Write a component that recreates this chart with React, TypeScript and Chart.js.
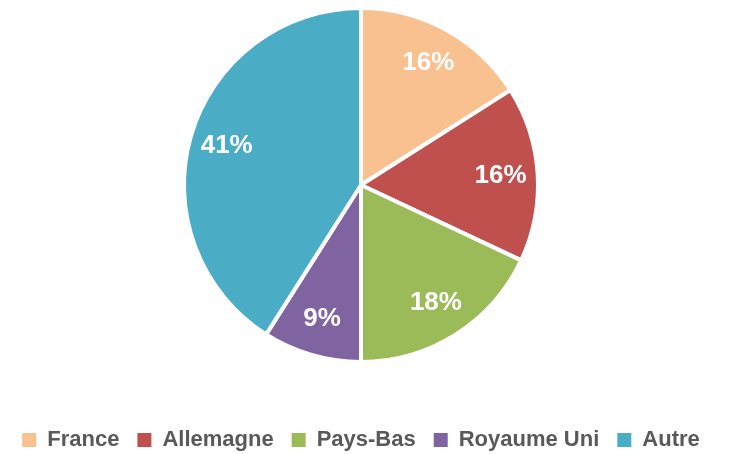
import React, { useEffect, useRef } from "react";
import { Chart, registerables } from "chart.js";

Chart.register(...registerables);

const categories = ["France", "Allemagne", "Pays-Bas", "Royaume Uni", "Autre"];
const shares = [16, 16, 18, 9, 41];
const colors = ["#F9C18F", "#C0504D", "#9BBB59", "#8064A2", "#4BACC6"];

const FONT = "'Liberation Sans', Arial, sans-serif";

const pieLabels = {
  id: "pieLabels",
  afterDatasetsDraw(chart: any) {
    const ctx = chart.ctx;
    const meta = chart.getDatasetMeta(0);
    ctx.save();
    ctx.fillStyle = "#FFFFFF";
    ctx.font = `bold 26px ${FONT}`;
    ctx.textAlign = "center";
    ctx.textBaseline = "middle";
    meta.data.forEach((arc: any, i: number) => {
      const p = arc.getProps(["x", "y", "startAngle", "endAngle", "outerRadius"], true);
      const mid = (p.startAngle + p.endAngle) / 2;
      const r = p.outerRadius * 0.79;
      ctx.fillText(shares[i] + "%", p.x + Math.cos(mid) * r, p.y + Math.sin(mid) * r);
    });
    ctx.restore();
  },
};

export default function App() {
  const ref = useRef<HTMLCanvasElement>(null);
  useEffect(() => {
    document.body.style.overflow = "hidden";
    const base = (Chart as any).overrides.pie.plugins.legend.labels.generateLabels;
    const chart = new Chart(ref.current!, {
      type: "pie",
      data: {
        labels: categories,
        datasets: [
          {
            data: shares,
            backgroundColor: colors,
            borderColor: "#FFFFFF",
            borderWidth: 4,
          },
        ],
      },
      options: {
        responsive: false,
        animation: false,
        radius: 177,
        layout: { padding: { top: 0, right: 9, left: 0, bottom: 0 } },
        plugins: {
          tooltip: { enabled: false },
          legend: {
            position: "bottom",
            title: {
              display: true,
              text: " ",
              font: { size: 1, lineHeight: 1 },
              padding: { top: 40, bottom: 0 },
            },
            labels: {
              boxWidth: 14,
              boxHeight: 14,
              padding: 18,
              color: "#595959",
              font: { family: FONT, size: 22, weight: "bold" },
              generateLabels: (c: any) =>
                base(c).map((l: any) => ({ ...l, lineWidth: 0, strokeStyle: "transparent" })),
            },
          },
        },
      } as any,
      plugins: [pieLabels],
    });
    return () => chart.destroy();
  }, []);
  return (
    <div style={{ position: "fixed", left: 0, top: 0, width: 731, height: 454, overflow: "hidden", background: "#fff" }}>
      <canvas ref={ref} width={731} height={461} style={{ display: "block" }} />
    </div>
  );
}
